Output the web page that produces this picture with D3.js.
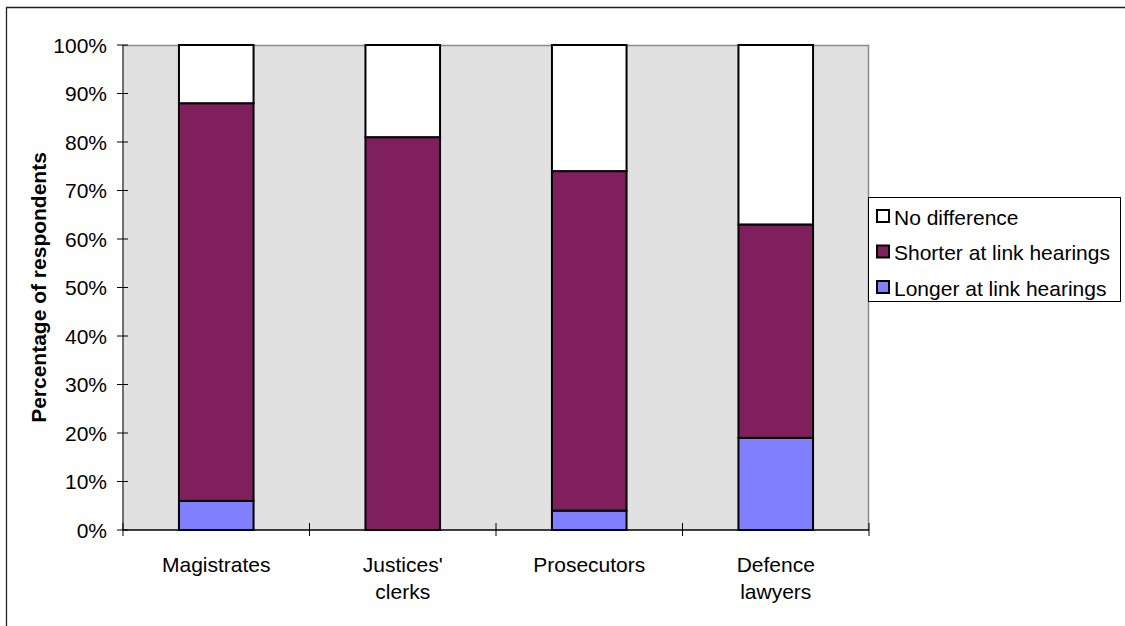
<!DOCTYPE html>
<html>
<head>
<meta charset="utf-8">
<script src="https://cdn.jsdelivr.net/npm/d3@7"></script>
<style>
  html, body { margin: 0; padding: 0; background: #fff; }
  svg { display: block; font-family: "Liberation Sans", Arial, sans-serif; }
</style>
</head>
<body>
<svg id="chart" width="1125" height="626"></svg>
<script>
// Respondent groups and their answers (percent of respondents)
const categories = [["Magistrates"], ["Justices'", "clerks"], ["Prosecutors"], ["Defence", "lawyers"]];
const categoryKeys = ["Magistrates", "Justices' clerks", "Prosecutors", "Defence lawyers"];
const longer = [6, 0, 4, 19];
const shorter = [82, 81, 70, 44];
const noDifference = [12, 19, 26, 37];
const seriesNames = ["Longer at link hearings", "Shorter at link hearings", "No difference"];
const seriesColors = ["#8080FF", "#801F5E", "#FFFFFF"];
const yTicks = [0, 10, 20, 30, 40, 50, 60, 70, 80, 90, 100];

const svg = d3.select("#chart");
const W = 1125, H = 626;
const plot = { left: 123, right: 869, top: 45, bottom: 530 };
const fontSize = 21;

// Outer chart frame (runs past the window on the right and bottom)
svg.append("path")
  .attr("d", `M6.5,${H + 5} V7.5 H${W + 5}`)
  .attr("fill", "none").attr("stroke", "#222").attr("stroke-width", 1.3);

const x = d3.scaleBand().domain(categoryKeys).range([plot.left, plot.right]).padding(0);
const y = d3.scaleLinear().domain([0, 100]).range([plot.bottom, plot.top]);

// Plot area background and border
svg.append("rect")
  .attr("x", plot.left).attr("y", plot.top)
  .attr("width", plot.right - plot.left).attr("height", plot.bottom - plot.top)
  .attr("fill", "#E1E1E1");
svg.append("path")
  .attr("d", `M${plot.left},${plot.top + 0.5} H${plot.right - 0.5} V${plot.bottom}`)
  .attr("fill", "none").attr("stroke", "#8C8C8C").attr("stroke-width", 1.5);

// Stack the three series
const rows = categoryKeys.map((k, i) => ({
  key: k,
  [seriesNames[0]]: longer[i],
  [seriesNames[1]]: shorter[i],
  [seriesNames[2]]: noDifference[i]
}));
const stacked = d3.stack().keys(seriesNames)(rows);

const barW = x.bandwidth() * 0.4;
const layers = svg.append("g").selectAll("g").data(stacked).join("g")
  .attr("fill", (d, i) => seriesColors[i]);
layers.selectAll("rect").data(d => d.filter(p => p[1] - p[0] > 0)).join("rect")
  .attr("x", d => x(d.data.key) + (x.bandwidth() - barW) / 2)
  .attr("width", barW)
  .attr("y", d => y(d[1]))
  .attr("height", d => y(d[0]) - y(d[1]))
  .attr("stroke", "#000").attr("stroke-width", 2);

// Y axis
const yAxis = svg.append("g").attr("transform", `translate(${plot.left},0)`);
yAxis.append("line")
  .attr("x1", 0).attr("x2", 0).attr("y1", plot.top).attr("y2", plot.bottom)
  .attr("stroke", "#444").attr("stroke-width", 1.5);
yAxis.selectAll("line.tick").data(yTicks).join("line").attr("class", "tick")
  .attr("x1", -6).attr("x2", 5)
  .attr("y1", d => y(d)).attr("y2", d => y(d))
  .attr("stroke", "#000").attr("stroke-width", 1);
yAxis.selectAll("text").data(yTicks).join("text")
  .attr("x", -16).attr("y", d => y(d))
  .attr("dy", "0.36em").attr("text-anchor", "end")
  .attr("font-size", fontSize).attr("fill", "#000")
  .text(d => d + "%");

// X axis
const xAxis = svg.append("g");
xAxis.append("line")
  .attr("x1", plot.left).attr("x2", plot.right)
  .attr("y1", plot.bottom).attr("y2", plot.bottom)
  .attr("stroke", "#000").attr("stroke-width", 1.5);
const boundaries = categoryKeys.map(k => x(k)).concat([x(categoryKeys[categoryKeys.length - 1]) + x.bandwidth()]);
xAxis.selectAll("line.tick").data(boundaries).join("line").attr("class", "tick")
  .attr("x1", d => d).attr("x2", d => d)
  .attr("y1", plot.bottom - 7).attr("y2", plot.bottom + 6)
  .attr("stroke", "#000").attr("stroke-width", 1);
xAxis.selectAll("text").data(categories).join("text")
  .attr("x", (d, i) => x(categoryKeys[i]) + x.bandwidth() / 2)
  .attr("y", 572)
  .attr("text-anchor", "middle")
  .attr("font-size", fontSize).attr("fill", "#000")
  .each(function (lines) {
    d3.select(this).selectAll("tspan").data(lines).join("tspan")
      .attr("x", d3.select(this).attr("x"))
      .attr("dy", (l, j) => j === 0 ? 0 : 27)
      .text(l => l);
  });

// Y axis title
svg.append("text")
  .attr("transform", `translate(38,${(plot.top + plot.bottom) / 2}) rotate(-90)`)
  .attr("text-anchor", "middle").attr("dy", "0.36em")
  .attr("font-size", fontSize).attr("font-weight", "bold").attr("fill", "#000")
  .text("Percentage of respondents");

// Legend
const legend = svg.append("g");
legend.append("rect")
  .attr("x", 868.5).attr("y", 197.5).attr("width", 252).attr("height", 104)
  .attr("fill", "#fff").attr("stroke", "#000").attr("stroke-width", 1);
const legendOrder = [2, 1, 0];
const legendRows = legend.selectAll("g.item").data(legendOrder).join("g").attr("class", "item")
  .attr("transform", (d, i) => `translate(877,${217 + i * 35.5})`);
legendRows.append("rect")
  .attr("x", 0).attr("y", -7).attr("width", 12).attr("height", 12)
  .attr("fill", d => seriesColors[d]).attr("stroke", "#000").attr("stroke-width", 2);
legendRows.append("text")
  .attr("x", 17).attr("y", 0).attr("dy", "0.36em")
  .attr("font-size", fontSize).attr("fill", "#000")
  .text(d => seriesNames[d]);
</script>
</body>
</html>
